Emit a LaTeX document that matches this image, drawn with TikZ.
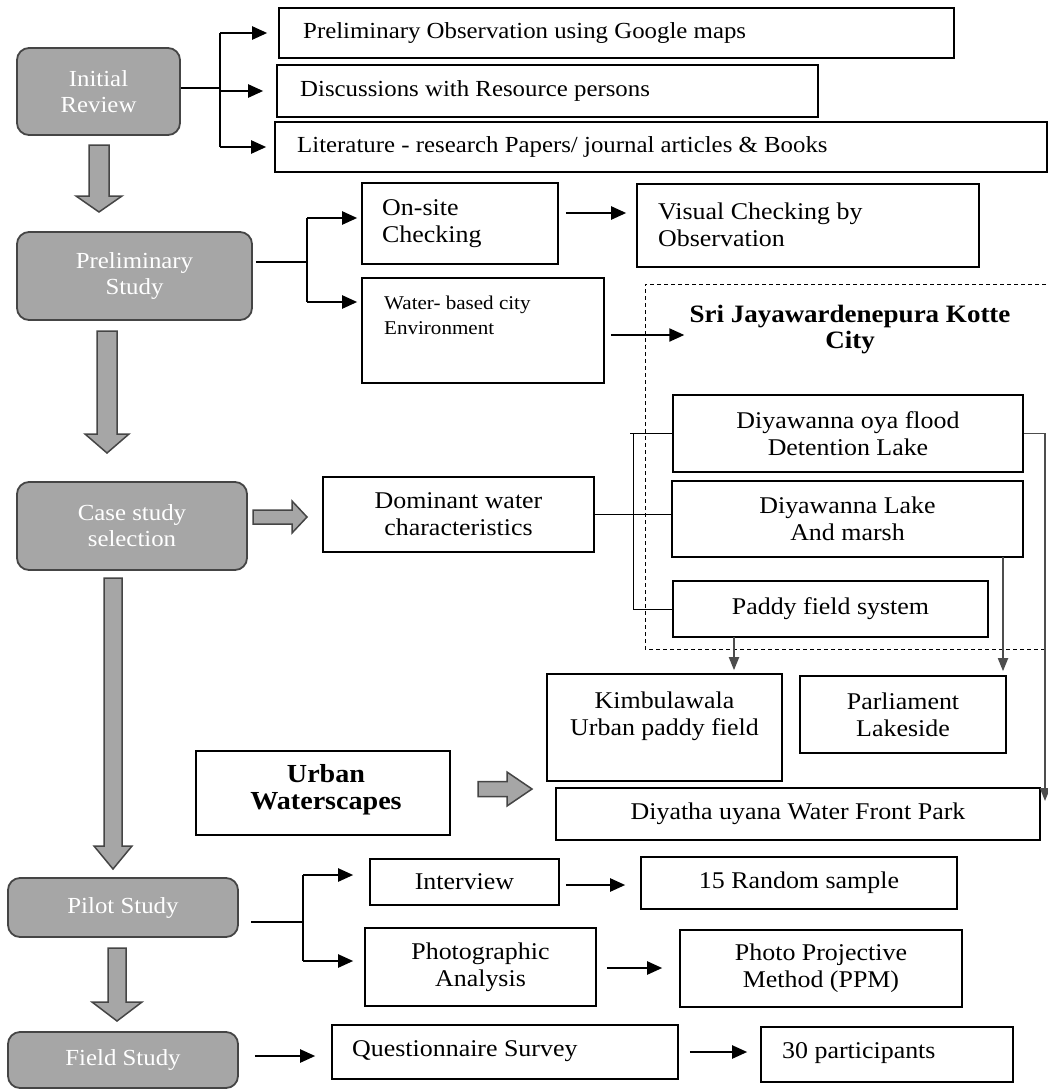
\documentclass[tikz,border=0pt]{standalone}
\usepackage{fontspec}
\setmainfont{Liberation Serif}[FakeStretch=1.08]
\usetikzlibrary{arrows.meta}
\definecolor{gfill}{HTML}{A6A6A6}
\definecolor{gborder}{HTML}{454545}
\definecolor{gconn}{HTML}{4D4D4D}
\newcommand{\fa}{\fontsize{24}{27}\selectfont}
\newcommand{\fb}{\fontsize{23}{26}\selectfont}
\newcommand{\fsm}{\fontsize{19.5}{25}\selectfont}
\newcommand{\blkdown}[6]{%
 \filldraw[blk] ({#1-#5},#2) -- ({#1+#5},#2) -- ({#1+#5},#3) -- ({#1+#6},#3) -- (#1,#4) -- ({#1-#6},#3) -- ({#1-#5},#3) -- cycle;}
\newcommand{\blkright}[6]{%
 \filldraw[blk] (#2,{#1-#5}) -- (#3,{#1-#5}) -- (#3,{#1-#6}) -- (#4,#1) -- (#3,{#1+#6}) -- (#3,{#1+#5}) -- (#2,{#1+#5}) -- cycle;}
\tikzset{
 box/.style={draw=black, line width=1.6pt, inner sep=0pt, align=center, font=\fa},
 gbox/.style={draw=gborder, fill=gfill, line width=1.8pt, rounded corners=12pt, inner sep=0pt, text=white, align=center, font=\fb},
 txt/.style={inner sep=0pt, align=center, font=\fa},
 conn/.style={line width=2.2pt},
 arr/.style={line width=2.2pt, -{Triangle[length=15pt,width=13pt]}},
 garr/.style={line width=1.8pt, draw=gconn, -{Triangle[length=13pt,width=10pt,fill=gconn]}, color=gconn},
 blk/.style={fill=gfill, draw=gborder, line width=1.5pt},
 thinl/.style={line width=1pt},
}
\begin{document}
\begin{tikzpicture}[x=1pt,y=-1pt]
\useasboundingbox (0,0) rectangle (1048,1090);
% ---- gray stage boxes
\node[gbox, minimum width=163pt, minimum height=87pt] (ir) at (98.5,91.5) {Initial\\Review};
\node[gbox, minimum width=235pt, minimum height=88pt] (ps) at (134.5,276) {Preliminary\\Study};
\node[gbox, minimum width=230pt, minimum height=88pt] (cs) at (132,526) {Case study\\selection};
\node[gbox, minimum width=230pt, minimum height=59pt] (pi) at (123,907.5) {Pilot Study};
\node[gbox, minimum width=230pt, minimum height=56pt] (fs) at (123,1060) {Field Study};
% ---- block arrows
\blkdown{99}{145}{196}{212}{10}{23}
\blkdown{107}{331}{434}{453}{10}{22}
\blkdown{113}{578}{846}{869}{9}{19}
\blkdown{117}{948}{1002}{1021}{9}{25}
\blkright{517}{253}{292}{307}{7}{16}
\blkright{789}{478}{507}{532}{7.5}{17}
% ---- top boxes
\node[box, minimum width=675pt, minimum height=50pt] (b1) at (616.5,33) {};
\node[box, minimum width=541pt, minimum height=52pt] (b2) at (547.5,91) {};
\node[box, minimum width=772pt, minimum height=50pt] (b3) at (661,147) {};
\node[txt, font=\fb, anchor=west] (b1t) at (303,33) {Preliminary Observation using Google maps};
\node[txt, font=\fb, anchor=west] (b2t) at (300,91) {Discussions with Resource persons};
\node[txt, font=\fb, anchor=west] (b3t) at (297,147) {Literature - research Papers/ journal articles \& Books};
% ---- preliminary study boxes
\node[box, minimum width=196pt, minimum height=81pt] (on) at (460,223.5) {};
\node[txt, align=left, anchor=west] (ont) at (382,223.5) {On-site\\Checking};
\node[box, minimum width=342pt, minimum height=83pt] (vc) at (808,225.5) {};
\node[txt, align=left, anchor=west] (vct) at (658,224.5) {Visual Checking by\\Observation};
\node[box, minimum width=242pt, minimum height=105pt] (wb) at (483,330.5) {};
\node[txt, font=\fsm, align=left, anchor=west] (wbt) at (384,315.5) {Water- based city\\Environment};
% ---- dashed city frame
\draw[dashed, line width=0.8pt, dash pattern=on 4pt off 3pt] (1060,284) -- (645,284) -- (645,649) -- (1060,649);
\node[txt, font=\fontsize{25}{26}\selectfont\bfseries] (srit) at (850,330) {Sri Jayawardenepura Kotte\\City};
\node[box, minimum width=350pt, minimum height=77pt] (d1) at (848,433.5) {Diyawanna oya flood\\Detention Lake};
\node[box, minimum width=351pt, minimum height=76pt] (d2) at (847.5,519) {Diyawanna Lake\\And marsh};
\node[box, minimum width=315pt, minimum height=56pt] (d3) at (830.5,609) {Paddy field system};
% ---- dominant
\node[box, minimum width=271pt, minimum height=75pt] (dom) at (458.5,514.5) {Dominant water\\characteristics};
% ---- case study outcomes
\node[box, minimum width=235pt, minimum height=107pt] (km) at (664.5,727.5) {};
\node[txt] (kmt) at (664.5,716) {Kimbulawala\\Urban paddy field};
\node[box, minimum width=206pt, minimum height=77pt] (pl) at (903,714.5) {Parliament\\Lakeside};
\node[box, minimum width=254pt, minimum height=84pt] (uw) at (323,793) {};
\node[txt, font=\fontsize{26}{27}\selectfont\bfseries] (uwt) at (326,790) {Urban\\Waterscapes};
\node[box, minimum width=484pt, minimum height=52pt] (dy) at (798,814) {Diyatha uyana Water Front Park};
% ---- pilot / field
\node[box, minimum width=189pt, minimum height=46pt] (iv) at (464.5,882) {Interview};
\node[box, minimum width=231pt, minimum height=78pt] (ph) at (480.5,967) {Photographic\\Analysis};
\node[box, minimum width=316pt, minimum height=52pt] (rs) at (799,883) {15 Random sample};
\node[box, minimum width=282pt, minimum height=77pt] (pp) at (821,968.5) {Photo Projective\\Method (PPM)};
\node[box, minimum width=346pt, minimum height=54pt] (qs) at (505,1052) {};
\node[txt, anchor=west] (qst) at (352,1051) {Questionnaire Survey};
\node[box, minimum width=252pt, minimum height=55pt] (tp) at (887,1054.5) {};
\node[txt, anchor=west] (tpt) at (782,1053) {30 participants};
% ---- connectors: initial review
\coordinate (j1) at (220,88);
\draw[conn] (ir.east |- j1) -- (j1);
\draw[conn] (j1 |- b1.west) -- (j1 |- b3.west);
\draw[arr, shorten >=11pt] (j1 |- b1.west) -- (b1.west);
\draw[arr, shorten >=13pt] (j1 |- b2.west) -- (b2.west);
\draw[arr, shorten >=8pt] (j1 |- b3.west) -- (b3.west);
% ---- preliminary study
\coordinate (j2) at (307,262);
\coordinate (j2a) at (307,218);
\coordinate (j2b) at (307,302);
\draw[conn] ([xshift=3pt,yshift=14pt]ps.east) -- (j2);
\draw[conn] (j2a) -- (j2b);
\draw[arr, shorten >=4pt] (j2a) -- (j2a -| on.west);
\draw[arr, shorten >=4pt] (j2b) -- (j2b -| wb.west);
\draw[arr, shorten <=7pt, shorten >=10pt] ([yshift=10.5pt]on.east) -- ([yshift=10.5pt]on.east -| vc.west);
\draw[arr, shorten <=6pt, shorten >=5pt] ([yshift=-4.5pt]wb.east) -- ([yshift=-4.5pt]wb.east -| srit.west);
% ---- bracket
\coordinate (bk) at (633,0);
\draw[thinl] ([xshift=-3pt]bk |- d1.west) -- (d1.west);
\draw[thinl] (bk |- d1.west) -- (bk |- d3.west) -- (d3.west);
\draw[thinl] (dom.east) -- (dom.east -| d2.west);
% ---- gray connectors
\coordinate (dyend) at (1045,801);
\coordinate (c2) at (1003,557);
\coordinate (c3) at (734,637);
\draw[garr] (d1.east) -| (dyend);
\draw[garr, shorten >=4pt] (c2) -- (c2 |- pl.north);
\draw[garr, shorten >=3pt] (c3) -- (c3 |- km.north);
% ---- pilot
\coordinate (p0) at (251,922);
\coordinate (j3) at (303,922);
\coordinate (j3a) at (303,875);
\coordinate (j3b) at (303,961);
\draw[conn] (p0) -- (j3);
\draw[conn] (j3a) -- (j3b);
\draw[arr, shorten >=16pt] (j3a) -- (j3a -| iv.west);
\draw[arr, shorten >=11pt] (j3b) -- (j3b -| ph.west);
\draw[arr, shorten <=6pt, shorten >=15pt] ([yshift=-3pt]iv.east) -- ([yshift=-3pt]iv.east -| rs.west);
\draw[arr, shorten <=10pt, shorten >=17pt] ([yshift=-1pt]ph.east) -- ([yshift=-1pt]ph.east -| pp.west);
\draw[arr, shorten <=16pt, shorten >=16pt] ([yshift=4pt]fs.east) -- ([yshift=4pt]fs.east -| qs.west);
\draw[arr, shorten <=11pt, shorten >=13pt] (qs.east) -- (qs.east -| tp.west);
\end{tikzpicture}
\end{document}
